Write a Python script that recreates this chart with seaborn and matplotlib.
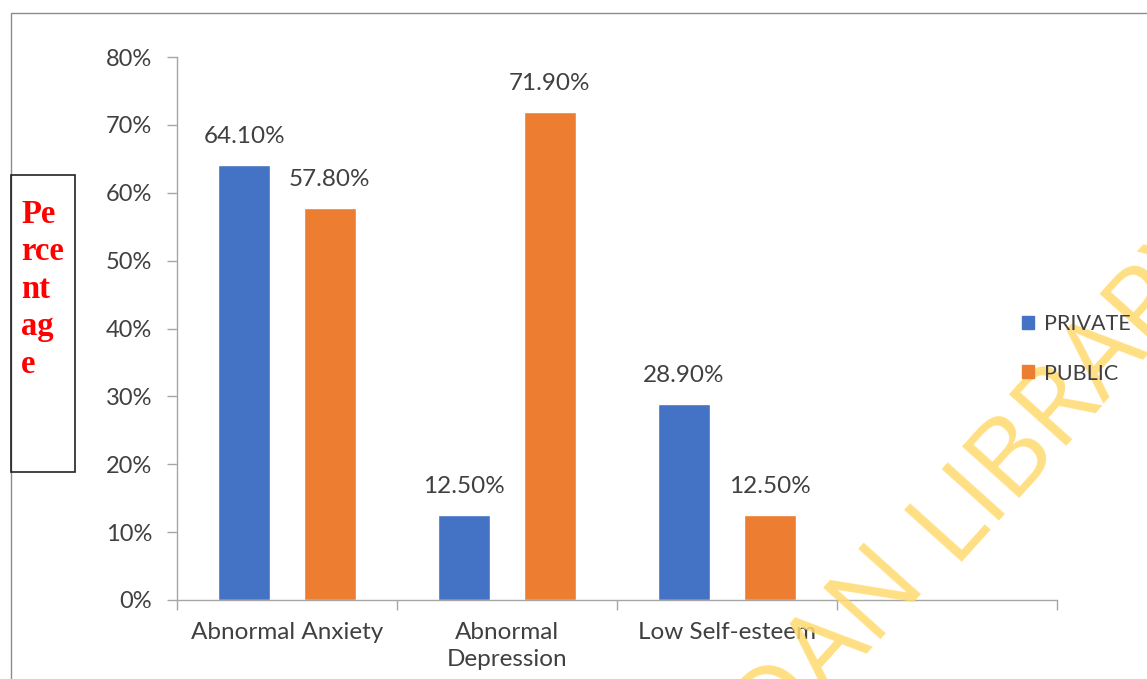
import matplotlib
matplotlib.use("Agg")
import matplotlib.pyplot as plt
from matplotlib.patches import Rectangle
import seaborn as sns
import pandas as pd

# Data
categories = ["Abnormal Anxiety", "Abnormal\nDepression", "Low Self-esteem"]
private = [64.10, 12.50, 28.90]
public = [57.80, 71.90, 12.50]
groups = ["PRIVATE", "PUBLIC"]
yticks = [0, 10, 20, 30, 40, 50, 60, 70, 80]
colors = {"PRIVATE": "#4472C4", "PUBLIC": "#ED7D31"}

df = pd.DataFrame({
    "category": categories * 2,
    "group": [groups[0]] * 3 + [groups[1]] * 3,
    "value": private + public,
})

W, H = 1147, 679
sns.set_theme(style="white")
plt.rcParams["font.family"] = ["Lato", "DejaVu Sans"]
text_color = "#404040"
axis_color = "#A6A6A6"

fig = plt.figure(figsize=(W / 100, H / 100), dpi=100)
ax = fig.add_axes([177 / W, 1 - 600 / H, (1057 - 177) / W, (600 - 57) / H])

sns.barplot(data=df, x="category", y="value", hue="group", order=categories,
            hue_order=groups, palette=colors, width=0.78, gap=0.385,
            saturation=1, ax=ax, legend=False)

for cont in ax.containers:
    ax.bar_label(cont, fmt="%.2f%%", padding=13, fontsize=17.5, color=text_color)

ax.set_xlim(-0.5, 3.5)
ax.set_ylim(0, 80)
ax.set_yticks(yticks)
ax.set_yticklabels([f"{t}%" for t in yticks], fontsize=17, color=text_color)
ax.tick_params(axis="y", direction="out", length=7, width=1, color=axis_color,
               pad=11, left=True)

# category boundaries as tick marks, names centred between them
ax.set_xticks([-0.5, 0.5, 1.5, 2.5, 3.5])
ax.set_xticklabels([""] * 5)
ax.tick_params(axis="x", which="major", direction="out", length=7, width=1,
               color=axis_color, bottom=True)
ax.set_xticks([0, 1, 2], minor=True)
ax.set_xticklabels(categories, minor=True, fontsize=17.5, color=text_color,
                   linespacing=1.35)
ax.tick_params(axis="x", which="minor", length=0, pad=16)
ax.set_xlabel("")
ax.set_ylabel("")

for side in ["top", "right"]:
    ax.spines[side].set_visible(False)
for side in ["left", "bottom"]:
    ax.spines[side].set_color(axis_color)
    ax.spines[side].set_linewidth(1)

# legend on the right
handles = [Rectangle((0, 0), 1, 1, color=colors[g]) for g in groups]
leg = fig.legend(handles, groups, loc="center left",
                 bbox_to_anchor=(1018 / W, 1 - 349 / H), frameon=False,
                 fontsize=15.5, handlelength=0.55, handleheight=0.55,
                 handletextpad=0.45, labelspacing=1.35, labelcolor=text_color,
                 borderpad=0.2, borderaxespad=0)
leg.set_zorder(6)

# outer chart frame
fig.add_artist(Rectangle((11 / W, -0.1), 1.2, 1.1 - 13 / H,
                         transform=fig.transFigure, fill=False,
                         edgecolor="#8C8C8C", linewidth=1))

# boxed axis title
fig.add_artist(Rectangle((11 / W, 1 - 472 / H), 64 / W, 297 / H,
                         transform=fig.transFigure, fill=False,
                         edgecolor="#222222", linewidth=1.2))
fig.text(21 / W, 1 - 199 / H, "Pe\nrce\nnt\nag\ne", ha="left", va="top",
         fontsize=23.5, fontweight="bold", color="red",
         family="Liberation Serif", linespacing=1.27)

# library watermark
wm = dict(fontsize=78, color="#FFDA6E", alpha=0.85, rotation=48,
          rotation_mode="anchor", va="baseline", family="Open Sans",
          fontweight="normal", zorder=4)
fig.text(951 / W, 1 - 562 / H, "LIBRARY", ha="left", **wm)
fig.text(929 / W, 1 - 586 / H, "UNIVERSITY OF IBADAN", ha="right", **wm)

fig.savefig("out.png", dpi=100)
